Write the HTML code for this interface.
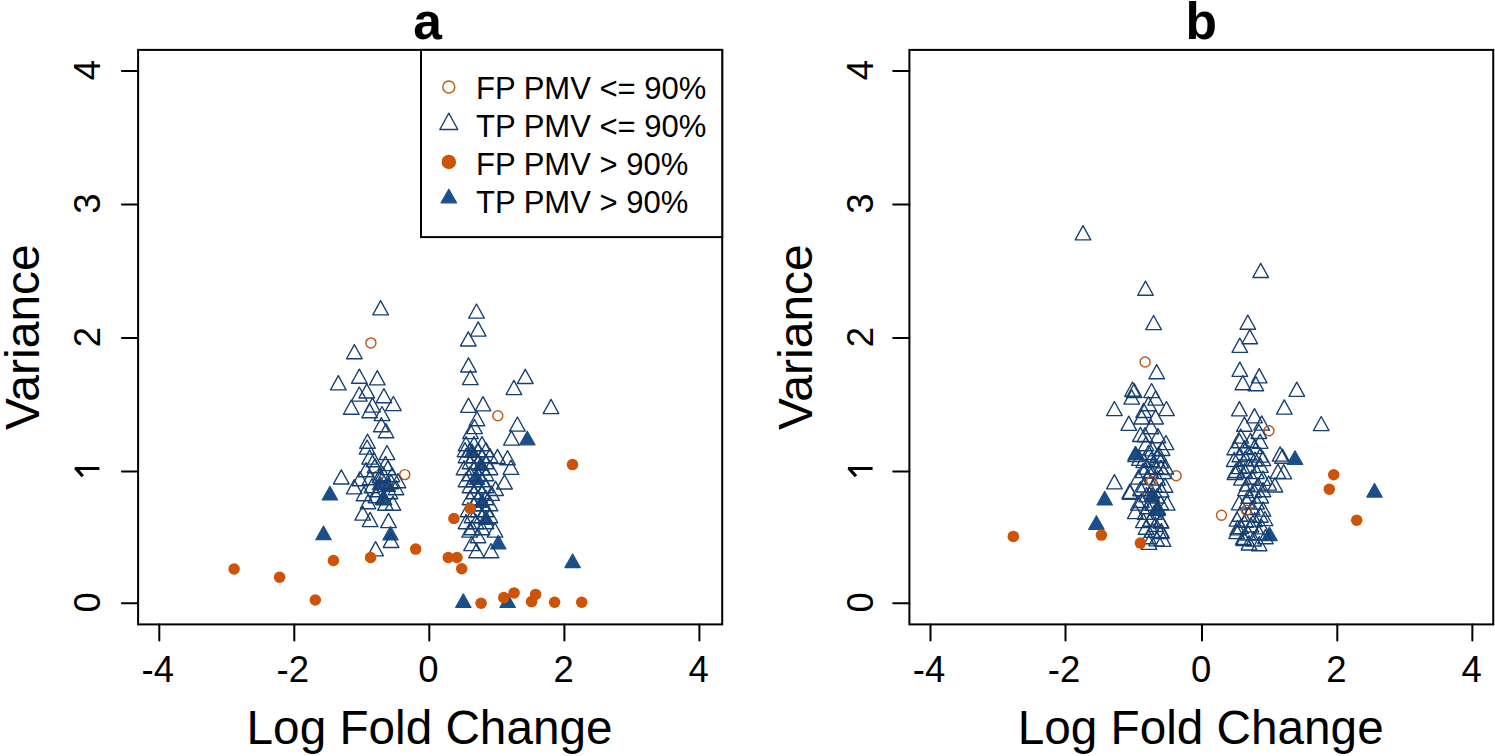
<!DOCTYPE html>
<html><head><meta charset="utf-8"><style>
html,body{margin:0;padding:0;background:#fff;overflow:hidden}
svg{display:block}
text{font-family:"Liberation Sans",sans-serif;fill:#000}
</style></head><body>
<svg width="1495" height="756" viewBox="0 0 1495 756" font-family="Liberation Sans, sans-serif">
<rect width="1495" height="756" fill="#fff"/>
<rect x="138.1" y="49.9" width="584.10" height="574.50" fill="none" stroke="#000" stroke-width="2"/>
<line x1="159.3" y1="624.4" x2="159.3" y2="640.4" stroke="#000" stroke-width="2" stroke-linecap="round"/>
<text x="157.80" y="682" font-size="36.5" text-anchor="middle">-4</text>
<line x1="294.3" y1="624.4" x2="294.3" y2="640.4" stroke="#000" stroke-width="2" stroke-linecap="round"/>
<text x="292.80" y="682" font-size="36.5" text-anchor="middle">-2</text>
<line x1="429.3" y1="624.4" x2="429.3" y2="640.4" stroke="#000" stroke-width="2" stroke-linecap="round"/>
<text x="428.50" y="682" font-size="36.5" text-anchor="middle">0</text>
<line x1="564.4" y1="624.4" x2="564.4" y2="640.4" stroke="#000" stroke-width="2" stroke-linecap="round"/>
<text x="563.60" y="682" font-size="36.5" text-anchor="middle">2</text>
<line x1="699.4" y1="624.4" x2="699.4" y2="640.4" stroke="#000" stroke-width="2" stroke-linecap="round"/>
<text x="698.60" y="682" font-size="36.5" text-anchor="middle">4</text>
<line x1="121.90" y1="603.25" x2="138.1" y2="603.25" stroke="#000" stroke-width="2" stroke-linecap="round"/>
<text transform="translate(99.70,602.35) rotate(-90)" x="0" y="0" font-size="36.5" text-anchor="middle">0</text>
<line x1="121.90" y1="471.4" x2="138.1" y2="471.4" stroke="#000" stroke-width="2" stroke-linecap="round"/>
<path d="M 99.40 468.50 L 74.80 468.50 M 75.40 467.90 L 82.80 476.30" fill="none" stroke="#000" stroke-width="3.2" stroke-linecap="butt"/>
<line x1="121.90" y1="338.0" x2="138.1" y2="338.0" stroke="#000" stroke-width="2" stroke-linecap="round"/>
<text transform="translate(99.70,337.10) rotate(-90)" x="0" y="0" font-size="36.5" text-anchor="middle">2</text>
<line x1="121.90" y1="204.5" x2="138.1" y2="204.5" stroke="#000" stroke-width="2" stroke-linecap="round"/>
<text transform="translate(99.70,203.60) rotate(-90)" x="0" y="0" font-size="36.5" text-anchor="middle">3</text>
<line x1="121.90" y1="71.06" x2="138.1" y2="71.06" stroke="#000" stroke-width="2" stroke-linecap="round"/>
<text transform="translate(99.70,70.16) rotate(-90)" x="0" y="0" font-size="36.5" text-anchor="middle">4</text>
<text x="427.55" y="38.9" font-size="51.5" font-weight="bold" text-anchor="middle">a</text>
<text x="429.55" y="744" font-size="47.7" text-anchor="middle">Log Fold Change</text>
<text transform="translate(38.80,337.15) rotate(-90)" font-size="48" text-anchor="middle">Variance</text>
<polygon points="380.60,300.70 388.40,314.85 372.80,314.85" fill="none" stroke="#173f72" stroke-width="1.35" stroke-linejoin="round"/>
<circle cx="370.90" cy="342.90" r="5.00" fill="none" stroke="#bd5a18" stroke-width="1.45"/>
<polygon points="354.40,344.60 362.20,358.75 346.60,358.75" fill="none" stroke="#173f72" stroke-width="1.35" stroke-linejoin="round"/>
<polygon points="338.30,375.70 346.10,389.85 330.50,389.85" fill="none" stroke="#173f72" stroke-width="1.35" stroke-linejoin="round"/>
<polygon points="359.30,369.10 367.10,383.25 351.50,383.25" fill="none" stroke="#173f72" stroke-width="1.35" stroke-linejoin="round"/>
<polygon points="377.30,370.70 385.10,384.85 369.50,384.85" fill="none" stroke="#173f72" stroke-width="1.35" stroke-linejoin="round"/>
<polygon points="366.80,383.80 374.60,397.95 359.00,397.95" fill="none" stroke="#173f72" stroke-width="1.35" stroke-linejoin="round"/>
<polygon points="359.30,387.00 367.10,401.15 351.50,401.15" fill="none" stroke="#173f72" stroke-width="1.35" stroke-linejoin="round"/>
<polygon points="383.90,388.60 391.70,402.75 376.10,402.75" fill="none" stroke="#173f72" stroke-width="1.35" stroke-linejoin="round"/>
<polygon points="393.40,396.50 401.20,410.65 385.60,410.65" fill="none" stroke="#173f72" stroke-width="1.35" stroke-linejoin="round"/>
<polygon points="351.30,400.10 359.10,414.25 343.50,414.25" fill="none" stroke="#173f72" stroke-width="1.35" stroke-linejoin="round"/>
<polygon points="372.50,397.90 380.30,412.05 364.70,412.05" fill="none" stroke="#173f72" stroke-width="1.35" stroke-linejoin="round"/>
<polygon points="382.00,406.50 389.80,420.65 374.20,420.65" fill="none" stroke="#173f72" stroke-width="1.35" stroke-linejoin="round"/>
<polygon points="369.60,403.60 377.40,417.75 361.80,417.75" fill="none" stroke="#173f72" stroke-width="1.35" stroke-linejoin="round"/>
<polygon points="381.30,417.60 389.10,431.75 373.50,431.75" fill="none" stroke="#173f72" stroke-width="1.35" stroke-linejoin="round"/>
<polygon points="386.00,423.60 393.80,437.75 378.20,437.75" fill="none" stroke="#173f72" stroke-width="1.35" stroke-linejoin="round"/>
<polygon points="367.50,434.10 375.30,448.25 359.70,448.25" fill="none" stroke="#173f72" stroke-width="1.35" stroke-linejoin="round"/>
<polygon points="367.10,440.00 374.90,454.15 359.30,454.15" fill="none" stroke="#173f72" stroke-width="1.35" stroke-linejoin="round"/>
<polygon points="387.00,445.50 394.80,459.65 379.20,459.65" fill="none" stroke="#173f72" stroke-width="1.35" stroke-linejoin="round"/>
<polygon points="369.60,449.90 377.40,464.05 361.80,464.05" fill="none" stroke="#173f72" stroke-width="1.35" stroke-linejoin="round"/>
<polygon points="385.50,456.40 393.30,470.55 377.70,470.55" fill="none" stroke="#173f72" stroke-width="1.35" stroke-linejoin="round"/>
<polygon points="329.90,486.40 337.60,500.00 322.20,500.00" fill="#1b4f8a" stroke="#1b4f8a" stroke-width="1.2" stroke-linejoin="round"/>
<polygon points="341.30,469.80 349.10,483.95 333.50,483.95" fill="none" stroke="#173f72" stroke-width="1.35" stroke-linejoin="round"/>
<polygon points="354.20,479.70 362.00,493.85 346.40,493.85" fill="none" stroke="#173f72" stroke-width="1.35" stroke-linejoin="round"/>
<circle cx="404.80" cy="474.60" r="5.00" fill="none" stroke="#bd5a18" stroke-width="1.45"/>
<polygon points="362.70,506.00 370.50,520.15 354.90,520.15" fill="none" stroke="#173f72" stroke-width="1.35" stroke-linejoin="round"/>
<polygon points="370.10,512.40 377.90,526.55 362.30,526.55" fill="none" stroke="#173f72" stroke-width="1.35" stroke-linejoin="round"/>
<polygon points="388.50,513.40 396.30,527.55 380.70,527.55" fill="none" stroke="#173f72" stroke-width="1.35" stroke-linejoin="round"/>
<polygon points="392.90,496.10 400.70,510.25 385.10,510.25" fill="none" stroke="#173f72" stroke-width="1.35" stroke-linejoin="round"/>
<polygon points="385.50,496.10 393.30,510.25 377.70,510.25" fill="none" stroke="#173f72" stroke-width="1.35" stroke-linejoin="round"/>
<polygon points="390.50,526.40 398.20,540.00 382.80,540.00" fill="#1b4f8a" stroke="#1b4f8a" stroke-width="1.2" stroke-linejoin="round"/>
<polygon points="391.10,533.30 398.90,547.45 383.30,547.45" fill="none" stroke="#173f72" stroke-width="1.35" stroke-linejoin="round"/>
<polygon points="375.60,541.70 383.40,555.85 367.80,555.85" fill="none" stroke="#173f72" stroke-width="1.35" stroke-linejoin="round"/>
<polygon points="323.50,526.10 331.20,539.70 315.80,539.70" fill="#1b4f8a" stroke="#1b4f8a" stroke-width="1.2" stroke-linejoin="round"/>
<circle cx="378.50" cy="475.60" r="5.00" fill="none" stroke="#bd5a18" stroke-width="1.45"/>
<polygon points="380.00,475.90 387.70,489.50 372.30,489.50" fill="#1b4f8a" stroke="#1b4f8a" stroke-width="1.2" stroke-linejoin="round"/>
<polygon points="388.00,477.90 395.70,491.50 380.30,491.50" fill="#1b4f8a" stroke="#1b4f8a" stroke-width="1.2" stroke-linejoin="round"/>
<polygon points="383.00,490.90 390.70,504.50 375.30,504.50" fill="#1b4f8a" stroke="#1b4f8a" stroke-width="1.2" stroke-linejoin="round"/>
<polygon points="366.00,462.60 373.80,476.75 358.20,476.75" fill="none" stroke="#173f72" stroke-width="1.35" stroke-linejoin="round"/>
<polygon points="375.00,458.60 382.80,472.75 367.20,472.75" fill="none" stroke="#173f72" stroke-width="1.35" stroke-linejoin="round"/>
<polygon points="383.00,466.60 390.80,480.75 375.20,480.75" fill="none" stroke="#173f72" stroke-width="1.35" stroke-linejoin="round"/>
<polygon points="391.00,474.60 398.80,488.75 383.20,488.75" fill="none" stroke="#173f72" stroke-width="1.35" stroke-linejoin="round"/>
<polygon points="372.00,478.60 379.80,492.75 364.20,492.75" fill="none" stroke="#173f72" stroke-width="1.35" stroke-linejoin="round"/>
<polygon points="364.00,486.60 371.80,500.75 356.20,500.75" fill="none" stroke="#173f72" stroke-width="1.35" stroke-linejoin="round"/>
<polygon points="376.00,488.60 383.80,502.75 368.20,502.75" fill="none" stroke="#173f72" stroke-width="1.35" stroke-linejoin="round"/>
<polygon points="384.00,490.60 391.80,504.75 376.20,504.75" fill="none" stroke="#173f72" stroke-width="1.35" stroke-linejoin="round"/>
<polygon points="396.00,480.60 403.80,494.75 388.20,494.75" fill="none" stroke="#173f72" stroke-width="1.35" stroke-linejoin="round"/>
<polygon points="392.00,467.60 399.80,481.75 384.20,481.75" fill="none" stroke="#173f72" stroke-width="1.35" stroke-linejoin="round"/>
<polygon points="388.00,460.60 395.80,474.75 380.20,474.75" fill="none" stroke="#173f72" stroke-width="1.35" stroke-linejoin="round"/>
<polygon points="360.00,471.60 367.80,485.75 352.20,485.75" fill="none" stroke="#173f72" stroke-width="1.35" stroke-linejoin="round"/>
<polygon points="370.00,470.60 377.80,484.75 362.20,484.75" fill="none" stroke="#173f72" stroke-width="1.35" stroke-linejoin="round"/>
<polygon points="378.00,482.60 385.80,496.75 370.20,496.75" fill="none" stroke="#173f72" stroke-width="1.35" stroke-linejoin="round"/>
<polygon points="368.00,494.60 375.80,508.75 360.20,508.75" fill="none" stroke="#173f72" stroke-width="1.35" stroke-linejoin="round"/>
<polygon points="380.00,468.60 387.80,482.75 372.20,482.75" fill="none" stroke="#173f72" stroke-width="1.35" stroke-linejoin="round"/>
<polygon points="390.00,484.60 397.80,498.75 382.20,498.75" fill="none" stroke="#173f72" stroke-width="1.35" stroke-linejoin="round"/>
<polygon points="374.00,452.60 381.80,466.75 366.20,466.75" fill="none" stroke="#173f72" stroke-width="1.35" stroke-linejoin="round"/>
<polygon points="398.00,473.60 405.80,487.75 390.20,487.75" fill="none" stroke="#173f72" stroke-width="1.35" stroke-linejoin="round"/>
<polygon points="472.00,443.90 479.70,457.50 464.30,457.50" fill="#1b4f8a" stroke="#1b4f8a" stroke-width="1.2" stroke-linejoin="round"/>
<polygon points="481.00,456.90 488.70,470.50 473.30,470.50" fill="#1b4f8a" stroke="#1b4f8a" stroke-width="1.2" stroke-linejoin="round"/>
<polygon points="477.00,470.90 484.70,484.50 469.30,484.50" fill="#1b4f8a" stroke="#1b4f8a" stroke-width="1.2" stroke-linejoin="round"/>
<polygon points="482.00,493.90 489.70,507.50 474.30,507.50" fill="#1b4f8a" stroke="#1b4f8a" stroke-width="1.2" stroke-linejoin="round"/>
<polygon points="486.00,510.90 493.70,524.50 478.30,524.50" fill="#1b4f8a" stroke="#1b4f8a" stroke-width="1.2" stroke-linejoin="round"/>
<polygon points="466.00,436.60 473.80,450.75 458.20,450.75" fill="none" stroke="#173f72" stroke-width="1.35" stroke-linejoin="round"/>
<polygon points="474.00,436.60 481.80,450.75 466.20,450.75" fill="none" stroke="#173f72" stroke-width="1.35" stroke-linejoin="round"/>
<polygon points="482.00,436.60 489.80,450.75 474.20,450.75" fill="none" stroke="#173f72" stroke-width="1.35" stroke-linejoin="round"/>
<polygon points="465.00,442.60 472.80,456.75 457.20,456.75" fill="none" stroke="#173f72" stroke-width="1.35" stroke-linejoin="round"/>
<polygon points="470.00,442.60 477.80,456.75 462.20,456.75" fill="none" stroke="#173f72" stroke-width="1.35" stroke-linejoin="round"/>
<polygon points="478.00,442.60 485.80,456.75 470.20,456.75" fill="none" stroke="#173f72" stroke-width="1.35" stroke-linejoin="round"/>
<polygon points="486.00,442.60 493.80,456.75 478.20,456.75" fill="none" stroke="#173f72" stroke-width="1.35" stroke-linejoin="round"/>
<polygon points="466.00,448.60 473.80,462.75 458.20,462.75" fill="none" stroke="#173f72" stroke-width="1.35" stroke-linejoin="round"/>
<polygon points="474.00,448.60 481.80,462.75 466.20,462.75" fill="none" stroke="#173f72" stroke-width="1.35" stroke-linejoin="round"/>
<polygon points="482.00,448.60 489.80,462.75 474.20,462.75" fill="none" stroke="#173f72" stroke-width="1.35" stroke-linejoin="round"/>
<polygon points="490.00,448.60 497.80,462.75 482.20,462.75" fill="none" stroke="#173f72" stroke-width="1.35" stroke-linejoin="round"/>
<polygon points="470.00,454.60 477.80,468.75 462.20,468.75" fill="none" stroke="#173f72" stroke-width="1.35" stroke-linejoin="round"/>
<polygon points="478.00,454.60 485.80,468.75 470.20,468.75" fill="none" stroke="#173f72" stroke-width="1.35" stroke-linejoin="round"/>
<polygon points="486.00,454.60 493.80,468.75 478.20,468.75" fill="none" stroke="#173f72" stroke-width="1.35" stroke-linejoin="round"/>
<polygon points="464.00,460.60 471.80,474.75 456.20,474.75" fill="none" stroke="#173f72" stroke-width="1.35" stroke-linejoin="round"/>
<polygon points="474.00,460.60 481.80,474.75 466.20,474.75" fill="none" stroke="#173f72" stroke-width="1.35" stroke-linejoin="round"/>
<polygon points="482.00,460.60 489.80,474.75 474.20,474.75" fill="none" stroke="#173f72" stroke-width="1.35" stroke-linejoin="round"/>
<polygon points="490.00,460.60 497.80,474.75 482.20,474.75" fill="none" stroke="#173f72" stroke-width="1.35" stroke-linejoin="round"/>
<polygon points="470.00,466.60 477.80,480.75 462.20,480.75" fill="none" stroke="#173f72" stroke-width="1.35" stroke-linejoin="round"/>
<polygon points="478.00,466.60 485.80,480.75 470.20,480.75" fill="none" stroke="#173f72" stroke-width="1.35" stroke-linejoin="round"/>
<polygon points="486.00,466.60 493.80,480.75 478.20,480.75" fill="none" stroke="#173f72" stroke-width="1.35" stroke-linejoin="round"/>
<polygon points="466.00,472.60 473.80,486.75 458.20,486.75" fill="none" stroke="#173f72" stroke-width="1.35" stroke-linejoin="round"/>
<polygon points="474.00,472.60 481.80,486.75 466.20,486.75" fill="none" stroke="#173f72" stroke-width="1.35" stroke-linejoin="round"/>
<polygon points="482.00,472.60 489.80,486.75 474.20,486.75" fill="none" stroke="#173f72" stroke-width="1.35" stroke-linejoin="round"/>
<polygon points="470.00,478.60 477.80,492.75 462.20,492.75" fill="none" stroke="#173f72" stroke-width="1.35" stroke-linejoin="round"/>
<polygon points="478.00,478.60 485.80,492.75 470.20,492.75" fill="none" stroke="#173f72" stroke-width="1.35" stroke-linejoin="round"/>
<polygon points="486.00,478.60 493.80,492.75 478.20,492.75" fill="none" stroke="#173f72" stroke-width="1.35" stroke-linejoin="round"/>
<polygon points="474.00,484.60 481.80,498.75 466.20,498.75" fill="none" stroke="#173f72" stroke-width="1.35" stroke-linejoin="round"/>
<polygon points="482.00,484.60 489.80,498.75 474.20,498.75" fill="none" stroke="#173f72" stroke-width="1.35" stroke-linejoin="round"/>
<polygon points="470.00,490.60 477.80,504.75 462.20,504.75" fill="none" stroke="#173f72" stroke-width="1.35" stroke-linejoin="round"/>
<polygon points="478.00,490.60 485.80,504.75 470.20,504.75" fill="none" stroke="#173f72" stroke-width="1.35" stroke-linejoin="round"/>
<polygon points="486.00,490.60 493.80,504.75 478.20,504.75" fill="none" stroke="#173f72" stroke-width="1.35" stroke-linejoin="round"/>
<polygon points="474.00,496.60 481.80,510.75 466.20,510.75" fill="none" stroke="#173f72" stroke-width="1.35" stroke-linejoin="round"/>
<polygon points="482.00,496.60 489.80,510.75 474.20,510.75" fill="none" stroke="#173f72" stroke-width="1.35" stroke-linejoin="round"/>
<polygon points="490.00,496.60 497.80,510.75 482.20,510.75" fill="none" stroke="#173f72" stroke-width="1.35" stroke-linejoin="round"/>
<polygon points="468.00,502.60 475.80,516.75 460.20,516.75" fill="none" stroke="#173f72" stroke-width="1.35" stroke-linejoin="round"/>
<polygon points="478.00,502.60 485.80,516.75 470.20,516.75" fill="none" stroke="#173f72" stroke-width="1.35" stroke-linejoin="round"/>
<polygon points="486.00,502.60 493.80,516.75 478.20,516.75" fill="none" stroke="#173f72" stroke-width="1.35" stroke-linejoin="round"/>
<polygon points="472.00,508.60 479.80,522.75 464.20,522.75" fill="none" stroke="#173f72" stroke-width="1.35" stroke-linejoin="round"/>
<polygon points="482.00,508.60 489.80,522.75 474.20,522.75" fill="none" stroke="#173f72" stroke-width="1.35" stroke-linejoin="round"/>
<polygon points="490.00,508.60 497.80,522.75 482.20,522.75" fill="none" stroke="#173f72" stroke-width="1.35" stroke-linejoin="round"/>
<polygon points="466.00,514.60 473.80,528.75 458.20,528.75" fill="none" stroke="#173f72" stroke-width="1.35" stroke-linejoin="round"/>
<polygon points="476.00,514.60 483.80,528.75 468.20,528.75" fill="none" stroke="#173f72" stroke-width="1.35" stroke-linejoin="round"/>
<polygon points="486.00,514.60 493.80,528.75 478.20,528.75" fill="none" stroke="#173f72" stroke-width="1.35" stroke-linejoin="round"/>
<polygon points="472.00,520.60 479.80,534.75 464.20,534.75" fill="none" stroke="#173f72" stroke-width="1.35" stroke-linejoin="round"/>
<polygon points="482.00,520.60 489.80,534.75 474.20,534.75" fill="none" stroke="#173f72" stroke-width="1.35" stroke-linejoin="round"/>
<polygon points="478.00,528.60 485.80,542.75 470.20,542.75" fill="none" stroke="#173f72" stroke-width="1.35" stroke-linejoin="round"/>
<polygon points="476.50,304.00 484.30,318.15 468.70,318.15" fill="none" stroke="#173f72" stroke-width="1.35" stroke-linejoin="round"/>
<polygon points="478.20,321.90 486.00,336.05 470.40,336.05" fill="none" stroke="#173f72" stroke-width="1.35" stroke-linejoin="round"/>
<polygon points="468.30,331.80 476.10,345.95 460.50,345.95" fill="none" stroke="#173f72" stroke-width="1.35" stroke-linejoin="round"/>
<polygon points="468.50,357.80 476.30,371.95 460.70,371.95" fill="none" stroke="#173f72" stroke-width="1.35" stroke-linejoin="round"/>
<polygon points="470.30,370.50 478.10,384.65 462.50,384.65" fill="none" stroke="#173f72" stroke-width="1.35" stroke-linejoin="round"/>
<polygon points="525.30,369.30 533.10,383.45 517.50,383.45" fill="none" stroke="#173f72" stroke-width="1.35" stroke-linejoin="round"/>
<polygon points="513.90,380.40 521.70,394.55 506.10,394.55" fill="none" stroke="#173f72" stroke-width="1.35" stroke-linejoin="round"/>
<polygon points="468.50,398.20 476.30,412.35 460.70,412.35" fill="none" stroke="#173f72" stroke-width="1.35" stroke-linejoin="round"/>
<polygon points="483.00,396.70 490.80,410.85 475.20,410.85" fill="none" stroke="#173f72" stroke-width="1.35" stroke-linejoin="round"/>
<circle cx="497.80" cy="415.70" r="5.00" fill="none" stroke="#bd5a18" stroke-width="1.45"/>
<polygon points="517.40,417.00 525.20,431.15 509.60,431.15" fill="none" stroke="#173f72" stroke-width="1.35" stroke-linejoin="round"/>
<polygon points="527.30,431.20 535.00,444.80 519.60,444.80" fill="#1b4f8a" stroke="#1b4f8a" stroke-width="1.2" stroke-linejoin="round"/>
<polygon points="511.40,430.90 519.20,445.05 503.60,445.05" fill="none" stroke="#173f72" stroke-width="1.35" stroke-linejoin="round"/>
<polygon points="474.50,419.50 482.30,433.65 466.70,433.65" fill="none" stroke="#173f72" stroke-width="1.35" stroke-linejoin="round"/>
<polygon points="470.50,424.50 478.30,438.65 462.70,438.65" fill="none" stroke="#173f72" stroke-width="1.35" stroke-linejoin="round"/>
<polygon points="477.00,411.60 484.80,425.75 469.20,425.75" fill="none" stroke="#173f72" stroke-width="1.35" stroke-linejoin="round"/>
<polygon points="507.50,450.60 515.30,464.75 499.70,464.75" fill="none" stroke="#173f72" stroke-width="1.35" stroke-linejoin="round"/>
<polygon points="510.90,460.20 518.70,474.35 503.10,474.35" fill="none" stroke="#173f72" stroke-width="1.35" stroke-linejoin="round"/>
<polygon points="497.50,449.30 505.30,463.45 489.70,463.45" fill="none" stroke="#173f72" stroke-width="1.35" stroke-linejoin="round"/>
<polygon points="504.50,474.80 512.30,488.95 496.70,488.95" fill="none" stroke="#173f72" stroke-width="1.35" stroke-linejoin="round"/>
<polygon points="495.60,481.30 503.40,495.45 487.80,495.45" fill="none" stroke="#173f72" stroke-width="1.35" stroke-linejoin="round"/>
<polygon points="491.60,486.20 499.40,500.35 483.80,500.35" fill="none" stroke="#173f72" stroke-width="1.35" stroke-linejoin="round"/>
<polygon points="551.00,399.40 558.80,413.55 543.20,413.55" fill="none" stroke="#173f72" stroke-width="1.35" stroke-linejoin="round"/>
<polygon points="572.60,554.00 580.30,567.60 564.90,567.60" fill="#1b4f8a" stroke="#1b4f8a" stroke-width="1.2" stroke-linejoin="round"/>
<polygon points="463.30,593.90 471.00,607.50 455.60,607.50" fill="#1b4f8a" stroke="#1b4f8a" stroke-width="1.2" stroke-linejoin="round"/>
<polygon points="507.70,593.90 515.40,607.50 500.00,607.50" fill="#1b4f8a" stroke="#1b4f8a" stroke-width="1.2" stroke-linejoin="round"/>
<polygon points="498.30,535.40 506.00,549.00 490.60,549.00" fill="#1b4f8a" stroke="#1b4f8a" stroke-width="1.2" stroke-linejoin="round"/>
<polygon points="476.50,543.60 484.30,557.75 468.70,557.75" fill="none" stroke="#173f72" stroke-width="1.35" stroke-linejoin="round"/>
<polygon points="491.00,543.60 498.80,557.75 483.20,557.75" fill="none" stroke="#173f72" stroke-width="1.35" stroke-linejoin="round"/>
<polygon points="471.60,536.50 479.40,550.65 463.80,550.65" fill="none" stroke="#173f72" stroke-width="1.35" stroke-linejoin="round"/>
<polygon points="469.70,523.00 477.50,537.15 461.90,537.15" fill="none" stroke="#173f72" stroke-width="1.35" stroke-linejoin="round"/>
<polygon points="495.00,523.00 502.80,537.15 487.20,537.15" fill="none" stroke="#173f72" stroke-width="1.35" stroke-linejoin="round"/>
<circle cx="333.40" cy="560.50" r="5.75" fill="#cf5306"/>
<circle cx="370.60" cy="557.50" r="5.75" fill="#cf5306"/>
<circle cx="415.70" cy="549.10" r="5.75" fill="#cf5306"/>
<circle cx="234.10" cy="569.00" r="5.75" fill="#cf5306"/>
<circle cx="279.60" cy="577.20" r="5.75" fill="#cf5306"/>
<circle cx="315.30" cy="600.00" r="5.75" fill="#cf5306"/>
<circle cx="572.50" cy="464.60" r="5.75" fill="#cf5306"/>
<circle cx="470.30" cy="508.50" r="5.75" fill="#cf5306"/>
<circle cx="453.90" cy="518.50" r="5.75" fill="#cf5306"/>
<circle cx="448.30" cy="557.50" r="5.75" fill="#cf5306"/>
<circle cx="457.00" cy="557.50" r="5.75" fill="#cf5306"/>
<circle cx="461.70" cy="568.70" r="5.75" fill="#cf5306"/>
<circle cx="481.10" cy="603.20" r="5.75" fill="#cf5306"/>
<circle cx="503.80" cy="597.60" r="5.75" fill="#cf5306"/>
<circle cx="514.10" cy="592.90" r="5.75" fill="#cf5306"/>
<circle cx="531.60" cy="601.60" r="5.75" fill="#cf5306"/>
<circle cx="535.60" cy="594.40" r="5.75" fill="#cf5306"/>
<circle cx="554.60" cy="602.20" r="5.75" fill="#cf5306"/>
<circle cx="581.70" cy="602.20" r="5.75" fill="#cf5306"/>
<rect x="421" y="49.9" width="301.20000000000005" height="187.2" fill="#fff" stroke="#000" stroke-width="2"/>
<circle cx="448.80" cy="86.90" r="6.00" fill="none" stroke="#bd5a18" stroke-width="1.45"/>
<text x="476" y="99.2" font-size="31">FP PMV &lt;= 90%</text>
<polygon points="448.80,113.19 457.77,129.46 439.83,129.46" fill="none" stroke="#173f72" stroke-width="1.35" stroke-linejoin="round"/>
<text x="476" y="136.8" font-size="31">TP PMV &lt;= 90%</text>
<circle cx="448.80" cy="161.90" r="7.25" fill="#cf5306"/>
<text x="476" y="175.4" font-size="31">FP PMV &gt; 90%</text>
<polygon points="448.80,189.20 456.50,202.80 441.10,202.80" fill="#1b4f8a" stroke="#1b4f8a" stroke-width="1.2" stroke-linejoin="round"/>
<text x="476" y="213" font-size="31">TP PMV &gt; 90%</text>
<rect x="909.4" y="49.9" width="583.85" height="574.50" fill="none" stroke="#000" stroke-width="2"/>
<line x1="930.5" y1="624.4" x2="930.5" y2="640.4" stroke="#000" stroke-width="2" stroke-linecap="round"/>
<text x="929.00" y="682" font-size="36.5" text-anchor="middle">-4</text>
<line x1="1065.5" y1="624.4" x2="1065.5" y2="640.4" stroke="#000" stroke-width="2" stroke-linecap="round"/>
<text x="1064.00" y="682" font-size="36.5" text-anchor="middle">-2</text>
<line x1="1202.0" y1="624.4" x2="1202.0" y2="640.4" stroke="#000" stroke-width="2" stroke-linecap="round"/>
<text x="1201.20" y="682" font-size="36.5" text-anchor="middle">0</text>
<line x1="1337.3" y1="624.4" x2="1337.3" y2="640.4" stroke="#000" stroke-width="2" stroke-linecap="round"/>
<text x="1336.50" y="682" font-size="36.5" text-anchor="middle">2</text>
<line x1="1472.35" y1="624.4" x2="1472.35" y2="640.4" stroke="#000" stroke-width="2" stroke-linecap="round"/>
<text x="1471.55" y="682" font-size="36.5" text-anchor="middle">4</text>
<line x1="893.20" y1="603.25" x2="909.4" y2="603.25" stroke="#000" stroke-width="2" stroke-linecap="round"/>
<text transform="translate(872.90,602.35) rotate(-90)" x="0" y="0" font-size="36.5" text-anchor="middle">0</text>
<line x1="893.20" y1="471.4" x2="909.4" y2="471.4" stroke="#000" stroke-width="2" stroke-linecap="round"/>
<path d="M 872.60 468.50 L 848.00 468.50 M 848.60 467.90 L 856.00 476.30" fill="none" stroke="#000" stroke-width="3.2" stroke-linecap="butt"/>
<line x1="893.20" y1="338.0" x2="909.4" y2="338.0" stroke="#000" stroke-width="2" stroke-linecap="round"/>
<text transform="translate(872.90,337.10) rotate(-90)" x="0" y="0" font-size="36.5" text-anchor="middle">2</text>
<line x1="893.20" y1="204.5" x2="909.4" y2="204.5" stroke="#000" stroke-width="2" stroke-linecap="round"/>
<text transform="translate(872.90,203.60) rotate(-90)" x="0" y="0" font-size="36.5" text-anchor="middle">3</text>
<line x1="893.20" y1="71.06" x2="909.4" y2="71.06" stroke="#000" stroke-width="2" stroke-linecap="round"/>
<text transform="translate(872.90,70.16) rotate(-90)" x="0" y="0" font-size="36.5" text-anchor="middle">4</text>
<text x="1201.33" y="38.9" font-size="51.5" font-weight="bold" text-anchor="middle">b</text>
<text x="1200.73" y="744" font-size="47.7" text-anchor="middle">Log Fold Change</text>
<text transform="translate(812.00,337.15) rotate(-90)" font-size="48" text-anchor="middle">Variance</text>
<polygon points="1135.50,446.40 1143.20,460.00 1127.80,460.00" fill="#1b4f8a" stroke="#1b4f8a" stroke-width="1.2" stroke-linejoin="round"/>
<polygon points="1083.00,225.70 1090.80,239.85 1075.20,239.85" fill="none" stroke="#173f72" stroke-width="1.35" stroke-linejoin="round"/>
<polygon points="1145.50,281.10 1153.30,295.25 1137.70,295.25" fill="none" stroke="#173f72" stroke-width="1.35" stroke-linejoin="round"/>
<polygon points="1153.60,315.50 1161.40,329.65 1145.80,329.65" fill="none" stroke="#173f72" stroke-width="1.35" stroke-linejoin="round"/>
<circle cx="1145.10" cy="362.00" r="5.00" fill="none" stroke="#bd5a18" stroke-width="1.45"/>
<polygon points="1156.70,364.60 1164.50,378.75 1148.90,378.75" fill="none" stroke="#173f72" stroke-width="1.35" stroke-linejoin="round"/>
<polygon points="1134.20,383.50 1142.00,397.65 1126.40,397.65" fill="none" stroke="#173f72" stroke-width="1.35" stroke-linejoin="round"/>
<polygon points="1132.50,382.10 1140.30,396.25 1124.70,396.25" fill="none" stroke="#173f72" stroke-width="1.35" stroke-linejoin="round"/>
<polygon points="1151.60,383.50 1159.40,397.65 1143.80,397.65" fill="none" stroke="#173f72" stroke-width="1.35" stroke-linejoin="round"/>
<polygon points="1131.70,389.90 1139.50,404.05 1123.90,404.05" fill="none" stroke="#173f72" stroke-width="1.35" stroke-linejoin="round"/>
<polygon points="1114.40,401.50 1122.20,415.65 1106.60,415.65" fill="none" stroke="#173f72" stroke-width="1.35" stroke-linejoin="round"/>
<polygon points="1166.50,401.50 1174.30,415.65 1158.70,415.65" fill="none" stroke="#173f72" stroke-width="1.35" stroke-linejoin="round"/>
<polygon points="1155.60,390.90 1163.40,405.05 1147.80,405.05" fill="none" stroke="#173f72" stroke-width="1.35" stroke-linejoin="round"/>
<polygon points="1143.70,403.30 1151.50,417.45 1135.90,417.45" fill="none" stroke="#173f72" stroke-width="1.35" stroke-linejoin="round"/>
<polygon points="1148.50,396.60 1156.30,410.75 1140.70,410.75" fill="none" stroke="#173f72" stroke-width="1.35" stroke-linejoin="round"/>
<polygon points="1128.80,416.20 1136.60,430.35 1121.00,430.35" fill="none" stroke="#173f72" stroke-width="1.35" stroke-linejoin="round"/>
<polygon points="1141.70,409.80 1149.50,423.95 1133.90,423.95" fill="none" stroke="#173f72" stroke-width="1.35" stroke-linejoin="round"/>
<polygon points="1155.60,409.80 1163.40,423.95 1147.80,423.95" fill="none" stroke="#173f72" stroke-width="1.35" stroke-linejoin="round"/>
<polygon points="1151.00,419.60 1158.80,433.75 1143.20,433.75" fill="none" stroke="#173f72" stroke-width="1.35" stroke-linejoin="round"/>
<polygon points="1145.00,427.60 1152.80,441.75 1137.20,441.75" fill="none" stroke="#173f72" stroke-width="1.35" stroke-linejoin="round"/>
<polygon points="1158.00,428.60 1165.80,442.75 1150.20,442.75" fill="none" stroke="#173f72" stroke-width="1.35" stroke-linejoin="round"/>
<circle cx="1176.20" cy="475.80" r="5.00" fill="none" stroke="#bd5a18" stroke-width="1.45"/>
<polygon points="1114.40,474.70 1122.20,488.85 1106.60,488.85" fill="none" stroke="#173f72" stroke-width="1.35" stroke-linejoin="round"/>
<polygon points="1104.70,491.40 1112.40,505.00 1097.00,505.00" fill="#1b4f8a" stroke="#1b4f8a" stroke-width="1.2" stroke-linejoin="round"/>
<polygon points="1096.40,515.70 1104.10,529.30 1088.70,529.30" fill="#1b4f8a" stroke="#1b4f8a" stroke-width="1.2" stroke-linejoin="round"/>
<polygon points="1135.70,447.50 1143.50,461.65 1127.90,461.65" fill="none" stroke="#173f72" stroke-width="1.35" stroke-linejoin="round"/>
<polygon points="1146.00,436.60 1153.80,450.75 1138.20,450.75" fill="none" stroke="#173f72" stroke-width="1.35" stroke-linejoin="round"/>
<polygon points="1166.00,435.50 1173.80,449.65 1158.20,449.65" fill="none" stroke="#173f72" stroke-width="1.35" stroke-linejoin="round"/>
<polygon points="1157.50,448.40 1165.30,462.55 1149.70,462.55" fill="none" stroke="#173f72" stroke-width="1.35" stroke-linejoin="round"/>
<polygon points="1143.70,453.40 1151.50,467.55 1135.90,467.55" fill="none" stroke="#173f72" stroke-width="1.35" stroke-linejoin="round"/>
<polygon points="1161.00,460.30 1168.80,474.45 1153.20,474.45" fill="none" stroke="#173f72" stroke-width="1.35" stroke-linejoin="round"/>
<polygon points="1129.80,484.20 1137.60,498.35 1122.00,498.35" fill="none" stroke="#173f72" stroke-width="1.35" stroke-linejoin="round"/>
<polygon points="1149.00,535.20 1156.80,549.35 1141.20,549.35" fill="none" stroke="#173f72" stroke-width="1.35" stroke-linejoin="round"/>
<polygon points="1163.10,532.20 1170.90,546.35 1155.30,546.35" fill="none" stroke="#173f72" stroke-width="1.35" stroke-linejoin="round"/>
<polygon points="1143.30,513.40 1151.10,527.55 1135.50,527.55" fill="none" stroke="#173f72" stroke-width="1.35" stroke-linejoin="round"/>
<polygon points="1160.60,513.40 1168.40,527.55 1152.80,527.55" fill="none" stroke="#173f72" stroke-width="1.35" stroke-linejoin="round"/>
<polygon points="1135.30,504.50 1143.10,518.65 1127.50,518.65" fill="none" stroke="#173f72" stroke-width="1.35" stroke-linejoin="round"/>
<polygon points="1138.40,496.00 1146.20,510.15 1130.60,510.15" fill="none" stroke="#173f72" stroke-width="1.35" stroke-linejoin="round"/>
<polygon points="1167.20,496.00 1175.00,510.15 1159.40,510.15" fill="none" stroke="#173f72" stroke-width="1.35" stroke-linejoin="round"/>
<polygon points="1130.10,485.10 1137.90,499.25 1122.30,499.25" fill="none" stroke="#173f72" stroke-width="1.35" stroke-linejoin="round"/>
<polygon points="1161.40,523.60 1169.20,537.75 1153.60,537.75" fill="none" stroke="#173f72" stroke-width="1.35" stroke-linejoin="round"/>
<polygon points="1152.00,487.90 1159.70,501.50 1144.30,501.50" fill="#1b4f8a" stroke="#1b4f8a" stroke-width="1.2" stroke-linejoin="round"/>
<polygon points="1158.00,500.90 1165.70,514.50 1150.30,514.50" fill="#1b4f8a" stroke="#1b4f8a" stroke-width="1.2" stroke-linejoin="round"/>
<polygon points="1140.40,427.30 1148.20,441.45 1132.60,441.45" fill="none" stroke="#173f72" stroke-width="1.35" stroke-linejoin="round"/>
<polygon points="1152.40,441.70 1160.20,455.85 1144.60,455.85" fill="none" stroke="#173f72" stroke-width="1.35" stroke-linejoin="round"/>
<polygon points="1162.10,441.30 1169.90,455.45 1154.30,455.45" fill="none" stroke="#173f72" stroke-width="1.35" stroke-linejoin="round"/>
<polygon points="1148.50,445.30 1156.30,459.45 1140.70,459.45" fill="none" stroke="#173f72" stroke-width="1.35" stroke-linejoin="round"/>
<polygon points="1158.80,446.90 1166.60,461.05 1151.00,461.05" fill="none" stroke="#173f72" stroke-width="1.35" stroke-linejoin="round"/>
<polygon points="1139.40,451.20 1147.20,465.35 1131.60,465.35" fill="none" stroke="#173f72" stroke-width="1.35" stroke-linejoin="round"/>
<polygon points="1151.10,452.50 1158.90,466.65 1143.30,466.65" fill="none" stroke="#173f72" stroke-width="1.35" stroke-linejoin="round"/>
<polygon points="1160.70,453.70 1168.50,467.85 1152.90,467.85" fill="none" stroke="#173f72" stroke-width="1.35" stroke-linejoin="round"/>
<polygon points="1146.60,459.90 1154.40,474.05 1138.80,474.05" fill="none" stroke="#173f72" stroke-width="1.35" stroke-linejoin="round"/>
<polygon points="1155.70,459.50 1163.50,473.65 1147.90,473.65" fill="none" stroke="#173f72" stroke-width="1.35" stroke-linejoin="round"/>
<polygon points="1165.80,459.90 1173.60,474.05 1158.00,474.05" fill="none" stroke="#173f72" stroke-width="1.35" stroke-linejoin="round"/>
<polygon points="1143.10,463.40 1150.90,477.55 1135.30,477.55" fill="none" stroke="#173f72" stroke-width="1.35" stroke-linejoin="round"/>
<polygon points="1150.90,463.80 1158.70,477.95 1143.10,477.95" fill="none" stroke="#173f72" stroke-width="1.35" stroke-linejoin="round"/>
<polygon points="1163.40,464.40 1171.20,478.55 1155.60,478.55" fill="none" stroke="#173f72" stroke-width="1.35" stroke-linejoin="round"/>
<polygon points="1138.40,470.00 1146.20,484.15 1130.60,484.15" fill="none" stroke="#173f72" stroke-width="1.35" stroke-linejoin="round"/>
<polygon points="1148.00,470.30 1155.80,484.45 1140.20,484.45" fill="none" stroke="#173f72" stroke-width="1.35" stroke-linejoin="round"/>
<polygon points="1157.60,470.90 1165.40,485.05 1149.80,485.05" fill="none" stroke="#173f72" stroke-width="1.35" stroke-linejoin="round"/>
<polygon points="1144.30,477.80 1152.10,491.95 1136.50,491.95" fill="none" stroke="#173f72" stroke-width="1.35" stroke-linejoin="round"/>
<polygon points="1154.50,477.90 1162.30,492.05 1146.70,492.05" fill="none" stroke="#173f72" stroke-width="1.35" stroke-linejoin="round"/>
<polygon points="1165.10,478.10 1172.90,492.25 1157.30,492.25" fill="none" stroke="#173f72" stroke-width="1.35" stroke-linejoin="round"/>
<polygon points="1140.50,481.60 1148.30,495.75 1132.70,495.75" fill="none" stroke="#173f72" stroke-width="1.35" stroke-linejoin="round"/>
<polygon points="1151.10,484.00 1158.90,498.15 1143.30,498.15" fill="none" stroke="#173f72" stroke-width="1.35" stroke-linejoin="round"/>
<polygon points="1161.20,482.80 1169.00,496.95 1153.40,496.95" fill="none" stroke="#173f72" stroke-width="1.35" stroke-linejoin="round"/>
<polygon points="1146.60,487.70 1154.40,501.85 1138.80,501.85" fill="none" stroke="#173f72" stroke-width="1.35" stroke-linejoin="round"/>
<polygon points="1157.00,488.80 1164.80,502.95 1149.20,502.95" fill="none" stroke="#173f72" stroke-width="1.35" stroke-linejoin="round"/>
<polygon points="1141.40,493.30 1149.20,507.45 1133.60,507.45" fill="none" stroke="#173f72" stroke-width="1.35" stroke-linejoin="round"/>
<polygon points="1153.10,496.10 1160.90,510.25 1145.30,510.25" fill="none" stroke="#173f72" stroke-width="1.35" stroke-linejoin="round"/>
<polygon points="1160.80,495.50 1168.60,509.65 1153.00,509.65" fill="none" stroke="#173f72" stroke-width="1.35" stroke-linejoin="round"/>
<polygon points="1147.70,499.60 1155.50,513.75 1139.90,513.75" fill="none" stroke="#173f72" stroke-width="1.35" stroke-linejoin="round"/>
<polygon points="1157.40,501.40 1165.20,515.55 1149.60,515.55" fill="none" stroke="#173f72" stroke-width="1.35" stroke-linejoin="round"/>
<polygon points="1145.10,505.20 1152.90,519.35 1137.30,519.35" fill="none" stroke="#173f72" stroke-width="1.35" stroke-linejoin="round"/>
<polygon points="1154.30,505.20 1162.10,519.35 1146.50,519.35" fill="none" stroke="#173f72" stroke-width="1.35" stroke-linejoin="round"/>
<polygon points="1150.70,512.10 1158.50,526.25 1142.90,526.25" fill="none" stroke="#173f72" stroke-width="1.35" stroke-linejoin="round"/>
<polygon points="1161.10,514.00 1168.90,528.15 1153.30,528.15" fill="none" stroke="#173f72" stroke-width="1.35" stroke-linejoin="round"/>
<polygon points="1146.00,520.10 1153.80,534.25 1138.20,534.25" fill="none" stroke="#173f72" stroke-width="1.35" stroke-linejoin="round"/>
<polygon points="1155.40,517.30 1163.20,531.45 1147.60,531.45" fill="none" stroke="#173f72" stroke-width="1.35" stroke-linejoin="round"/>
<polygon points="1152.30,523.20 1160.10,537.35 1144.50,537.35" fill="none" stroke="#173f72" stroke-width="1.35" stroke-linejoin="round"/>
<polygon points="1161.10,524.30 1168.90,538.45 1153.30,538.45" fill="none" stroke="#173f72" stroke-width="1.35" stroke-linejoin="round"/>
<polygon points="1148.30,529.60 1156.10,543.75 1140.50,543.75" fill="none" stroke="#173f72" stroke-width="1.35" stroke-linejoin="round"/>
<polygon points="1156.60,531.70 1164.40,545.85 1148.80,545.85" fill="none" stroke="#173f72" stroke-width="1.35" stroke-linejoin="round"/>
<circle cx="1151.60" cy="481.10" r="5.00" fill="none" stroke="#bd5a18" stroke-width="1.45"/>
<polygon points="1260.70,263.30 1268.50,277.45 1252.90,277.45" fill="none" stroke="#173f72" stroke-width="1.35" stroke-linejoin="round"/>
<polygon points="1247.80,315.10 1255.60,329.25 1240.00,329.25" fill="none" stroke="#173f72" stroke-width="1.35" stroke-linejoin="round"/>
<polygon points="1249.80,329.60 1257.60,343.75 1242.00,343.75" fill="none" stroke="#173f72" stroke-width="1.35" stroke-linejoin="round"/>
<polygon points="1239.80,338.20 1247.60,352.35 1232.00,352.35" fill="none" stroke="#173f72" stroke-width="1.35" stroke-linejoin="round"/>
<polygon points="1239.80,362.20 1247.60,376.35 1232.00,376.35" fill="none" stroke="#173f72" stroke-width="1.35" stroke-linejoin="round"/>
<polygon points="1259.20,368.70 1267.00,382.85 1251.40,382.85" fill="none" stroke="#173f72" stroke-width="1.35" stroke-linejoin="round"/>
<polygon points="1242.80,375.60 1250.60,389.75 1235.00,389.75" fill="none" stroke="#173f72" stroke-width="1.35" stroke-linejoin="round"/>
<polygon points="1255.90,376.60 1263.70,390.75 1248.10,390.75" fill="none" stroke="#173f72" stroke-width="1.35" stroke-linejoin="round"/>
<polygon points="1296.80,382.20 1304.60,396.35 1289.00,396.35" fill="none" stroke="#173f72" stroke-width="1.35" stroke-linejoin="round"/>
<polygon points="1284.30,399.90 1292.10,414.05 1276.50,414.05" fill="none" stroke="#173f72" stroke-width="1.35" stroke-linejoin="round"/>
<polygon points="1321.20,416.50 1329.00,430.65 1313.40,430.65" fill="none" stroke="#173f72" stroke-width="1.35" stroke-linejoin="round"/>
<polygon points="1239.40,401.70 1247.20,415.85 1231.60,415.85" fill="none" stroke="#173f72" stroke-width="1.35" stroke-linejoin="round"/>
<polygon points="1254.50,408.70 1262.30,422.85 1246.70,422.85" fill="none" stroke="#173f72" stroke-width="1.35" stroke-linejoin="round"/>
<polygon points="1261.70,415.90 1269.50,430.05 1253.90,430.05" fill="none" stroke="#173f72" stroke-width="1.35" stroke-linejoin="round"/>
<circle cx="1269.00" cy="430.80" r="5.00" fill="none" stroke="#bd5a18" stroke-width="1.45"/>
<polygon points="1244.40,417.10 1252.20,431.25 1236.60,431.25" fill="none" stroke="#173f72" stroke-width="1.35" stroke-linejoin="round"/>
<polygon points="1258.90,424.30 1266.70,438.45 1251.10,438.45" fill="none" stroke="#173f72" stroke-width="1.35" stroke-linejoin="round"/>
<polygon points="1240.80,429.00 1248.60,443.15 1233.00,443.15" fill="none" stroke="#173f72" stroke-width="1.35" stroke-linejoin="round"/>
<polygon points="1280.10,446.90 1287.90,461.05 1272.30,461.05" fill="none" stroke="#173f72" stroke-width="1.35" stroke-linejoin="round"/>
<polygon points="1282.50,449.10 1290.30,463.25 1274.70,463.25" fill="none" stroke="#173f72" stroke-width="1.35" stroke-linejoin="round"/>
<polygon points="1295.00,450.80 1302.70,464.40 1287.30,464.40" fill="#1b4f8a" stroke="#1b4f8a" stroke-width="1.2" stroke-linejoin="round"/>
<polygon points="1277.90,464.20 1285.70,478.35 1270.10,478.35" fill="none" stroke="#173f72" stroke-width="1.35" stroke-linejoin="round"/>
<polygon points="1283.80,464.70 1291.60,478.85 1276.00,478.85" fill="none" stroke="#173f72" stroke-width="1.35" stroke-linejoin="round"/>
<polygon points="1274.90,477.80 1282.70,491.95 1267.10,491.95" fill="none" stroke="#173f72" stroke-width="1.35" stroke-linejoin="round"/>
<polygon points="1239.20,495.70 1247.00,509.85 1231.40,509.85" fill="none" stroke="#173f72" stroke-width="1.35" stroke-linejoin="round"/>
<polygon points="1269.50,527.00 1277.20,540.60 1261.80,540.60" fill="#1b4f8a" stroke="#1b4f8a" stroke-width="1.2" stroke-linejoin="round"/>
<polygon points="1235.00,465.30 1242.80,479.45 1227.20,479.45" fill="none" stroke="#173f72" stroke-width="1.35" stroke-linejoin="round"/>
<polygon points="1237.60,520.70 1245.40,534.85 1229.80,534.85" fill="none" stroke="#173f72" stroke-width="1.35" stroke-linejoin="round"/>
<polygon points="1243.90,531.40 1251.70,545.55 1236.10,545.55" fill="none" stroke="#173f72" stroke-width="1.35" stroke-linejoin="round"/>
<circle cx="1221.50" cy="515.30" r="5.00" fill="none" stroke="#bd5a18" stroke-width="1.45"/>
<polygon points="1374.50,483.50 1382.20,497.10 1366.80,497.10" fill="#1b4f8a" stroke="#1b4f8a" stroke-width="1.2" stroke-linejoin="round"/>
<polygon points="1239.50,433.60 1247.30,447.75 1231.70,447.75" fill="none" stroke="#173f72" stroke-width="1.35" stroke-linejoin="round"/>
<polygon points="1250.50,433.30 1258.30,447.45 1242.70,447.45" fill="none" stroke="#173f72" stroke-width="1.35" stroke-linejoin="round"/>
<polygon points="1260.10,434.20 1267.90,448.35 1252.30,448.35" fill="none" stroke="#173f72" stroke-width="1.35" stroke-linejoin="round"/>
<polygon points="1234.70,440.60 1242.50,454.75 1226.90,454.75" fill="none" stroke="#173f72" stroke-width="1.35" stroke-linejoin="round"/>
<polygon points="1244.60,440.40 1252.40,454.55 1236.80,454.55" fill="none" stroke="#173f72" stroke-width="1.35" stroke-linejoin="round"/>
<polygon points="1254.70,439.40 1262.50,453.55 1246.90,453.55" fill="none" stroke="#173f72" stroke-width="1.35" stroke-linejoin="round"/>
<polygon points="1239.80,447.60 1247.60,461.75 1232.00,461.75" fill="none" stroke="#173f72" stroke-width="1.35" stroke-linejoin="round"/>
<polygon points="1248.90,445.80 1256.70,459.95 1241.10,459.95" fill="none" stroke="#173f72" stroke-width="1.35" stroke-linejoin="round"/>
<polygon points="1260.40,447.90 1268.20,462.05 1252.60,462.05" fill="none" stroke="#173f72" stroke-width="1.35" stroke-linejoin="round"/>
<polygon points="1234.20,452.30 1242.00,466.45 1226.40,466.45" fill="none" stroke="#173f72" stroke-width="1.35" stroke-linejoin="round"/>
<polygon points="1245.40,451.20 1253.20,465.35 1237.60,465.35" fill="none" stroke="#173f72" stroke-width="1.35" stroke-linejoin="round"/>
<polygon points="1255.10,452.00 1262.90,466.15 1247.30,466.15" fill="none" stroke="#173f72" stroke-width="1.35" stroke-linejoin="round"/>
<polygon points="1262.90,451.50 1270.70,465.65 1255.10,465.65" fill="none" stroke="#173f72" stroke-width="1.35" stroke-linejoin="round"/>
<polygon points="1239.40,459.50 1247.20,473.65 1231.60,473.65" fill="none" stroke="#173f72" stroke-width="1.35" stroke-linejoin="round"/>
<polygon points="1249.00,458.80 1256.80,472.95 1241.20,472.95" fill="none" stroke="#173f72" stroke-width="1.35" stroke-linejoin="round"/>
<polygon points="1260.40,458.20 1268.20,472.35 1252.60,472.35" fill="none" stroke="#173f72" stroke-width="1.35" stroke-linejoin="round"/>
<polygon points="1236.10,463.30 1243.90,477.45 1228.30,477.45" fill="none" stroke="#173f72" stroke-width="1.35" stroke-linejoin="round"/>
<polygon points="1244.70,463.70 1252.50,477.85 1236.90,477.85" fill="none" stroke="#173f72" stroke-width="1.35" stroke-linejoin="round"/>
<polygon points="1256.50,464.40 1264.30,478.55 1248.70,478.55" fill="none" stroke="#173f72" stroke-width="1.35" stroke-linejoin="round"/>
<polygon points="1241.40,470.90 1249.20,485.05 1233.60,485.05" fill="none" stroke="#173f72" stroke-width="1.35" stroke-linejoin="round"/>
<polygon points="1251.90,470.00 1259.70,484.15 1244.10,484.15" fill="none" stroke="#173f72" stroke-width="1.35" stroke-linejoin="round"/>
<polygon points="1262.90,471.20 1270.70,485.35 1255.10,485.35" fill="none" stroke="#173f72" stroke-width="1.35" stroke-linejoin="round"/>
<polygon points="1247.20,476.80 1255.00,490.95 1239.40,490.95" fill="none" stroke="#173f72" stroke-width="1.35" stroke-linejoin="round"/>
<polygon points="1258.10,477.70 1265.90,491.85 1250.30,491.85" fill="none" stroke="#173f72" stroke-width="1.35" stroke-linejoin="round"/>
<polygon points="1268.70,476.00 1276.50,490.15 1260.90,490.15" fill="none" stroke="#173f72" stroke-width="1.35" stroke-linejoin="round"/>
<polygon points="1245.40,481.50 1253.20,495.65 1237.60,495.65" fill="none" stroke="#173f72" stroke-width="1.35" stroke-linejoin="round"/>
<polygon points="1253.80,483.40 1261.60,497.55 1246.00,497.55" fill="none" stroke="#173f72" stroke-width="1.35" stroke-linejoin="round"/>
<polygon points="1263.00,482.60 1270.80,496.75 1255.20,496.75" fill="none" stroke="#173f72" stroke-width="1.35" stroke-linejoin="round"/>
<polygon points="1248.60,489.10 1256.40,503.25 1240.80,503.25" fill="none" stroke="#173f72" stroke-width="1.35" stroke-linejoin="round"/>
<polygon points="1260.80,488.80 1268.60,502.95 1253.00,502.95" fill="none" stroke="#173f72" stroke-width="1.35" stroke-linejoin="round"/>
<polygon points="1247.10,494.00 1254.90,508.15 1239.30,508.15" fill="none" stroke="#173f72" stroke-width="1.35" stroke-linejoin="round"/>
<polygon points="1256.60,494.90 1264.40,509.05 1248.80,509.05" fill="none" stroke="#173f72" stroke-width="1.35" stroke-linejoin="round"/>
<polygon points="1252.20,500.50 1260.00,514.65 1244.40,514.65" fill="none" stroke="#173f72" stroke-width="1.35" stroke-linejoin="round"/>
<polygon points="1263.00,501.90 1270.80,516.05 1255.20,516.05" fill="none" stroke="#173f72" stroke-width="1.35" stroke-linejoin="round"/>
<polygon points="1239.90,507.10 1247.70,521.25 1232.10,521.25" fill="none" stroke="#173f72" stroke-width="1.35" stroke-linejoin="round"/>
<polygon points="1248.70,507.20 1256.50,521.35 1240.90,521.35" fill="none" stroke="#173f72" stroke-width="1.35" stroke-linejoin="round"/>
<polygon points="1260.40,508.10 1268.20,522.25 1252.60,522.25" fill="none" stroke="#173f72" stroke-width="1.35" stroke-linejoin="round"/>
<polygon points="1237.00,512.00 1244.80,526.15 1229.20,526.15" fill="none" stroke="#173f72" stroke-width="1.35" stroke-linejoin="round"/>
<polygon points="1245.70,513.10 1253.50,527.25 1237.90,527.25" fill="none" stroke="#173f72" stroke-width="1.35" stroke-linejoin="round"/>
<polygon points="1254.60,512.50 1262.40,526.65 1246.80,526.65" fill="none" stroke="#173f72" stroke-width="1.35" stroke-linejoin="round"/>
<polygon points="1265.00,511.50 1272.80,525.65 1257.20,525.65" fill="none" stroke="#173f72" stroke-width="1.35" stroke-linejoin="round"/>
<polygon points="1240.70,519.40 1248.50,533.55 1232.90,533.55" fill="none" stroke="#173f72" stroke-width="1.35" stroke-linejoin="round"/>
<polygon points="1250.90,517.80 1258.70,531.95 1243.10,531.95" fill="none" stroke="#173f72" stroke-width="1.35" stroke-linejoin="round"/>
<polygon points="1261.70,519.70 1269.50,533.85 1253.90,533.85" fill="none" stroke="#173f72" stroke-width="1.35" stroke-linejoin="round"/>
<polygon points="1236.70,524.40 1244.50,538.55 1228.90,538.55" fill="none" stroke="#173f72" stroke-width="1.35" stroke-linejoin="round"/>
<polygon points="1248.10,525.80 1255.90,539.95 1240.30,539.95" fill="none" stroke="#173f72" stroke-width="1.35" stroke-linejoin="round"/>
<polygon points="1259.00,525.70 1266.80,539.85 1251.20,539.85" fill="none" stroke="#173f72" stroke-width="1.35" stroke-linejoin="round"/>
<polygon points="1243.30,530.30 1251.10,544.45 1235.50,544.45" fill="none" stroke="#173f72" stroke-width="1.35" stroke-linejoin="round"/>
<polygon points="1253.60,531.80 1261.40,545.95 1245.80,545.95" fill="none" stroke="#173f72" stroke-width="1.35" stroke-linejoin="round"/>
<polygon points="1265.40,529.60 1273.20,543.75 1257.60,543.75" fill="none" stroke="#173f72" stroke-width="1.35" stroke-linejoin="round"/>
<polygon points="1249.00,535.80 1256.80,549.95 1241.20,549.95" fill="none" stroke="#173f72" stroke-width="1.35" stroke-linejoin="round"/>
<polygon points="1259.20,536.60 1267.00,550.75 1251.40,550.75" fill="none" stroke="#173f72" stroke-width="1.35" stroke-linejoin="round"/>
<circle cx="1246.40" cy="510.30" r="5.00" fill="none" stroke="#bd5a18" stroke-width="1.45"/>
<circle cx="1101.40" cy="535.10" r="5.75" fill="#cf5306"/>
<circle cx="1013.30" cy="536.40" r="5.75" fill="#cf5306"/>
<circle cx="1140.40" cy="543.10" r="5.75" fill="#cf5306"/>
<circle cx="1333.70" cy="474.70" r="5.75" fill="#cf5306"/>
<circle cx="1329.30" cy="489.20" r="5.75" fill="#cf5306"/>
<circle cx="1356.70" cy="520.20" r="5.75" fill="#cf5306"/>
</svg>
</body></html>
